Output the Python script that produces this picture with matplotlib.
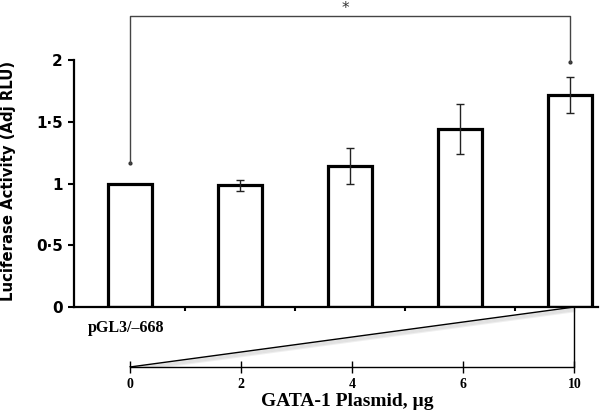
import numpy as np
import matplotlib
matplotlib.use("Agg")
import matplotlib.pyplot as plt

# values
activity = [1.0, 0.985, 1.14, 1.44, 1.72]
errors = [0.0, 0.045, 0.145, 0.20, 0.145]
plasmid = ['0', '2', '4', '6', '10']
yticks = [0, 0.5, 1, 1.5, 2]
ytick_labels = ['0', '0\u00b75', '1', '1\u00b75', '2']
construct = 'pGL3/\u2013668'
sig_bar = (0, 4)
sig_heights = (1.17, 2.36, 1.98)

fig = plt.figure(figsize=(6, 4.13), dpi=100)
ax = fig.add_axes([74/600, 106/413, 526/600, 307/413])

x = np.arange(len(activity))
ax.bar(x, activity, width=0.4, color='white', edgecolor='black', linewidth=2.3, zorder=2)
ax.errorbar(x[1:], activity[1:], yerr=errors[1:], fmt='none', ecolor='#222222',
            elinewidth=1.0, capsize=3, capthick=1.0, zorder=3)

ax.set_xlim(-0.509, 4.273)
ax.set_ylim(0, 2.486)
for s in ['top', 'right']:
    ax.spines[s].set_visible(False)
ax.spines['left'].set_bounds(0, 2)
ax.spines['bottom'].set_bounds(-0.509, 4.255)
ax.spines['left'].set_linewidth(1.6)
ax.spines['bottom'].set_linewidth(1.6)

ax.set_yticks(yticks)
ax.set_yticklabels(ytick_labels, fontsize=11, fontweight='bold', family='DejaVu Sans')
ax.tick_params(axis='y', direction='out', length=4, width=1.5, pad=4)
ax.set_xticks(x[:-1] + 0.5)
ax.set_xticklabels([])
ax.tick_params(axis='x', direction='out', length=3, width=1.5)
ax.set_ylabel('Luciferase Activity (Adj RLU)', fontsize=10.7, fontweight='bold')
ax.yaxis.set_label_coords(-0.11, 0.41)

# significance bracket
a, b = sig_bar
lo_a, top, lo_b = sig_heights
ax.plot([x[a], x[a], x[b], x[b]], [lo_a, top, top, lo_b], color='#444444', lw=1.0,
        clip_on=False, zorder=4)
ax.plot([x[a], x[b]], [lo_a, lo_b], 'o', color='#333333', ms=2, clip_on=False)
ax.text(1.96, top + 0.06, '*', ha='center', va='center', fontsize=11, color='#333333')

ax.text(-0.38, -0.17, construct, ha='left', va='center', fontsize=11.5,
        fontweight='bold', family='Liberation Serif')

# plasmid dose scale with triangle
ax2 = fig.add_axes([74/600, 46/413, 526/600, 60/413])
ax2.set_xlim(ax.get_xlim())
ax2.set_ylim(0, 1)
ax2.patch.set_alpha(0)
for s in ['top', 'right', 'left']:
    ax2.spines[s].set_visible(False)
px = np.arange(len(plasmid)) * 1.01
ax2.spines['bottom'].set_bounds(px[0], px[-1])
ax2.spines['bottom'].set_linewidth(1.0)
ax2.set_yticks([])
ax2.set_xticks(px)
ax2.set_xticklabels(plasmid, fontsize=10, fontweight='bold', family='Liberation Serif')
ax2.tick_params(axis='x', direction='inout', length=8, width=1.0, pad=4)
for k in range(1, 5):
    ax2.plot([px[0], px[-1]], [0 - 0.018 * k, 1 - 0.018 * k], color='gray',
             alpha=0.12, lw=1.5)
ax2.plot([px[0], px[-1]], [0, 1], color='black', lw=1.0)
ax2.plot([px[-1], px[-1]], [0, 1], color='black', lw=1.0)
ax2.set_xlabel('GATA-1 Plasmid, \u00b5g', fontsize=14, fontweight='bold',
               family='Liberation Serif')
ax2.xaxis.set_label_coords(0.52, -0.44)

fig.savefig('out.png', dpi=100)
